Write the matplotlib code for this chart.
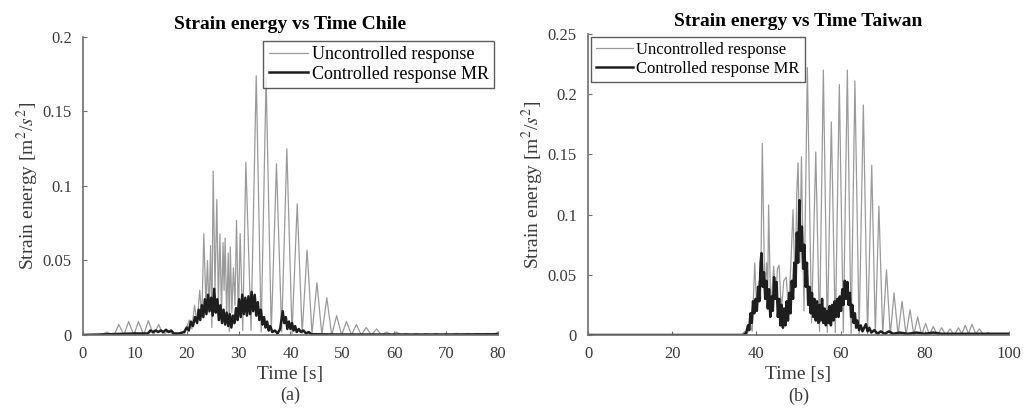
import matplotlib
matplotlib.use("Agg")
import matplotlib.pyplot as plt

# --- Chile record: uncontrolled response (peaks and troughs) ---
chile_unc_t = [0, 3.6, 4.6, 5.6, 6.0, 6.9, 7.9, 8.8, 9.8, 10.7, 11.7, 12.6, 13.6, 14.6, 15.5, 16.5,
               17.5, 18.5, 19.5, 20.5, 21.0, 21.5, 22.0, 22.5, 22.9, 23.3, 23.7, 24.0, 24.3, 24.6,
               24.85, 25.1, 25.45, 25.8, 26.1, 26.4, 26.7, 27.0, 27.2, 27.4, 27.7, 28.0, 28.2, 28.4,
               28.7, 29.0, 29.3, 29.6, 29.95, 30.3, 30.8, 31.4, 32.4, 33.4, 34.35, 35.3, 36.3, 37.3,
               38.3, 39.3, 40.3, 41.3, 42.25, 43.2, 44.15, 45.1, 46.05, 47.0, 47.95, 48.9, 49.85,
               50.8, 51.75, 52.7, 53.65, 54.6, 55.6, 56.6, 57.55, 58.5, 59.5, 60.4, 61.4, 62.3,
               63.3, 64.2, 65.2, 66.1, 67.1, 68.0, 69.0, 70.0, 71.0, 72.0, 73.0, 74.0, 75.0, 76.0,
               77.0, 78.0, 79.0, 80.0]
chile_unc_e = [0, 0, 0.002, 0, 0, 0.007, 0, 0.009, 0, 0.009, 0, 0.0096, 0, 0.007, 0, 0.003,
               0, 0.001, 0, 0.01, 0.004, 0.02, 0.008, 0.03, 0.012, 0.068, 0.02, 0.05, 0.015, 0.06,
               0.005, 0.110, 0.03, 0.091, 0.02, 0.068, 0.015, 0.062, 0.03, 0.065, 0.012, 0.055, 0.002, 0.059,
               0.015, 0.045, 0.02, 0.077, 0.01, 0.068, 0.003, 0.116, 0.003, 0.174, 0.002, 0.173, 0.002, 0.115,
               0.002, 0.125, 0.001, 0.088, 0.001, 0.057, 0.001, 0.035, 0, 0.025, 0, 0.013, 0,
               0.009, 0, 0.007, 0, 0.005, 0, 0.004, 0, 0.002, 0, 0.002, 0, 0.001,
               0, 0.001, 0, 0.001, 0, 0.001, 0, 0.001, 0, 0.001, 0, 0.001, 0, 0.001,
               0, 0.001, 0, 0.002]

# --- Chile record: controlled response MR ---
chile_mr_t = [0, 5, 10, 12.5, 13, 13.5, 14, 14.5, 15, 15.5, 16, 16.5, 17, 17.5, 18.5, 19.5, 20,
              20.4, 20.8, 21.2, 21.6, 22.0, 22.3, 22.6, 22.9, 23.2, 23.5, 23.8, 24.1, 24.4, 24.7,
              25.0, 25.3, 25.6, 25.9, 26.2, 26.5, 26.8, 27.1, 27.4, 27.7, 28.0, 28.3, 28.6, 28.9,
              29.2, 29.5, 29.8, 30.1, 30.4, 30.7, 31.0, 31.3, 31.6, 31.9, 32.2, 32.5, 32.8, 33.1,
              33.4, 33.7, 34.0, 34.3, 34.6, 34.9, 35.2, 35.5, 35.8, 36.1, 36.5, 37.0, 37.5, 38.0,
              38.5, 38.8, 39.1, 39.4, 39.7, 40.0, 40.3, 40.6, 40.9, 41.2, 41.6, 42.0, 42.5, 43.0,
              43.5, 44.0, 50, 60, 70, 80]
chile_mr_e = [0, 0.0005, 0.001, 0.001, 0.003, 0.002, 0.003, 0.002, 0.003, 0.002, 0.0035, 0.002, 0.003,
              0.001, 0.001, 0.002, 0.005,
              0.003, 0.009, 0.006, 0.012, 0.008, 0.017, 0.010, 0.020, 0.012, 0.024, 0.014, 0.027, 0.016, 0.025,
              0.013, 0.031, 0.015, 0.024, 0.010, 0.020, 0.008, 0.017, 0.007, 0.015, 0.006, 0.014, 0.005, 0.013,
              0.008, 0.018, 0.010, 0.024, 0.012, 0.027, 0.014, 0.025, 0.013, 0.026, 0.014, 0.029, 0.016, 0.027,
              0.013, 0.022, 0.010, 0.017, 0.007, 0.012, 0.005, 0.009, 0.003, 0.006, 0.002, 0.003, 0.001, 0.004,
              0.016, 0.008, 0.012, 0.004, 0.009, 0.004, 0.008, 0.003, 0.006, 0.002, 0.004, 0.002, 0.003, 0.001,
              0.002, 0.0005, 0.0003, 0.0003, 0.0003, 0.0005]

# --- Taiwan record: uncontrolled response ---
taiwan_unc_t = [0, 36.5, 37.2, 37.8, 38.5, 39.0, 39.6, 40.1, 40.6, 41.0, 41.4, 42.0, 42.4, 42.7, 42.9,
                43.4, 44.1, 44.6, 45.0, 45.4, 45.9, 46.5, 47.1, 47.6, 48.2, 48.7, 49.2, 49.6, 49.9,
                50.3, 50.7, 51.3, 52.1, 53.1, 54.1, 55.0, 55.9, 56.85, 57.8, 58.75, 59.7, 60.65, 61.6,
                62.5, 63.4, 64.4, 65.4, 66.4, 67.4, 68.25, 69.1, 70.0, 70.9, 71.8, 72.7, 73.65, 74.6,
                75.55, 76.5, 77.4, 78.3, 79.25, 80.2, 81.1, 82.0, 83.0, 84.0, 85.0, 86.0, 87.0, 88.0,
                88.8, 89.6, 90.4, 91.2, 92.1, 93.0, 94.0, 95.0, 96.0, 100]
taiwan_unc_e = [0, 0, 0.003, 0, 0.01, 0.003, 0.060, 0.02, 0.045, 0.03, 0.159, 0.03, 0.06, 0.04, 0.108,
                0.02, 0.057, 0.03, 0.055, 0.058, 0.02, 0.045, 0.048, 0.02, 0.06, 0.104, 0.04, 0.12, 0.143,
                0.06, 0.148, 0.02, 0.222, 0.01, 0.152, 0.003, 0.220, 0.002, 0.177, 0.002, 0.208, 0.002, 0.220,
                0.001, 0.211, 0.001, 0.191, 0.001, 0.141, 0.001, 0.107, 0.001, 0.054, 0, 0.035, 0, 0.028,
                0, 0.021, 0, 0.015, 0, 0.0097, 0, 0.007, 0, 0.006, 0, 0.005, 0, 0.006,
                0.001, 0.008, 0.001, 0.009, 0.001, 0.005, 0, 0.002, 0, 0]

# --- Taiwan record: controlled response MR ---
taiwan_mr_t = [0, 37, 37.6, 38.0, 38.3, 38.6, 38.9, 39.2, 39.5, 39.8, 40.1, 40.4, 40.7, 41.0, 41.2,
               41.5, 41.8, 42.1, 42.4, 42.7, 43.0, 43.3, 43.6, 43.9, 44.2, 44.5, 44.8, 45.1, 45.4,
               45.7, 46.0, 46.3, 46.6, 46.9, 47.2, 47.5, 47.8, 48.1, 48.4, 48.7, 49.0, 49.3, 49.6,
               49.9, 50.2, 50.5, 50.8, 51.1, 51.4, 51.7, 52.0, 52.3, 52.6, 52.9, 53.2, 53.5, 53.8,
               54.1, 54.4, 54.7, 55.0, 55.3, 55.6, 55.9, 56.2, 56.5, 56.8, 57.1, 57.4, 57.7, 58.0,
               58.3, 58.6, 58.9, 59.2, 59.5, 59.8, 60.1, 60.4, 60.7, 61.0, 61.3, 61.6, 61.9, 62.2,
               62.5, 62.8, 63.1, 63.4, 63.7, 64.0, 64.4, 64.8, 65.2, 65.6, 66.0, 66.4, 66.8, 67.3,
               68, 68.8, 69.5, 70.5, 71.5, 72.5, 74, 76, 78, 80, 82, 84, 90, 100]
taiwan_mr_e = [0, 0, 0.002, 0.008, 0.004, 0.018, 0.010, 0.028, 0.018, 0.030, 0.020, 0.040, 0.028, 0.060, 0.068,
               0.040, 0.052, 0.030, 0.045, 0.022, 0.038, 0.015, 0.032, 0.020, 0.048, 0.030, 0.044, 0.015, 0.030,
               0.008, 0.025, 0.006, 0.022, 0.008, 0.028, 0.012, 0.035, 0.018, 0.045, 0.030, 0.060, 0.040, 0.085,
               0.060, 0.112, 0.070, 0.090, 0.055, 0.075, 0.040, 0.060, 0.025, 0.040, 0.018, 0.035, 0.015, 0.030,
               0.012, 0.028, 0.010, 0.025, 0.012, 0.030, 0.010, 0.022, 0.008, 0.020, 0.010, 0.024, 0.008, 0.025,
               0.012, 0.028, 0.015, 0.030, 0.015, 0.032, 0.020, 0.038, 0.025, 0.045, 0.030, 0.044, 0.025, 0.035,
               0.015, 0.025, 0.010, 0.018, 0.006, 0.012, 0.004, 0.008, 0.003, 0.006, 0.009, 0.003, 0.006, 0.002,
               0.004, 0.001, 0.003, 0.001, 0.003, 0.001, 0.002, 0.001, 0.002, 0.001, 0.002, 0.001, 0.001, 0.001]

labels = ["Uncontrolled response", "Controlled response MR"]

plt.rcParams['font.family'] = ['Liberation Serif', 'DejaVu Serif']
plt.rcParams['mathtext.fontset'] = 'stix'

UNC_COLOR = '#9a9a9a'
MR_COLOR = '#1e1e1e'
AXIS_COLOR = '#6e6e6e'
TEXT_COLOR = '#3a3a3a'


# --- one panel ---
def draw_panel(ax, t_unc, e_unc, t_mr, e_mr, title, xmax, ymax, yticks, legend_loc, legend_size, tag):
    ax.plot(t_unc, e_unc, color=UNC_COLOR, lw=0.9, label=labels[0])
    ax.plot(t_mr, e_mr, color=MR_COLOR, lw=1.8, label=labels[1])
    ax.set_xlim(0, xmax)
    ax.set_ylim(0, ymax)
    ax.set_yticks(yticks)
    ax.set_yticklabels([('%g' % v) for v in yticks])
    ax.set_title(title, fontsize=14, fontweight='bold', pad=6)
    ax.set_xlabel('Time [s]', fontsize=14, color=TEXT_COLOR, labelpad=3)
    ax.set_ylabel('Strain energy [m$^2$/$s^2$]', fontsize=14, color=TEXT_COLOR, labelpad=1)
    for side in ['top', 'right']:
        ax.spines[side].set_visible(False)
    for side in ['left', 'bottom']:
        ax.spines[side].set_color(AXIS_COLOR)
        ax.spines[side].set_linewidth(1.2)
    ax.tick_params(direction='in', length=3, colors=AXIS_COLOR, labelcolor=TEXT_COLOR, labelsize=12)
    ax.tick_params(axis='x', pad=8)
    ax.tick_params(axis='y', pad=8)
    leg = ax.legend(loc=legend_loc, fontsize=legend_size, frameon=True, fancybox=False,
                    borderaxespad=0.2, handlelength=2.2, handletextpad=0.2,
                    labelspacing=0.15, borderpad=0.3)
    leg.get_frame().set_edgecolor('#333333')
    leg.get_frame().set_linewidth(1.0)
    ax.text(0.5, -0.175, tag, transform=ax.transAxes, ha='center', va='top',
            fontsize=13, color=TEXT_COLOR)


fig = plt.figure(figsize=(10.23, 4.13), dpi=100)
ax1 = fig.add_axes([0.0811, 0.1889, 0.4057, 0.7215])
ax2 = fig.add_axes([0.5748, 0.1889, 0.4115, 0.7288])

draw_panel(ax1, chile_unc_t, chile_unc_e, chile_mr_t, chile_mr_e,
           'Strain energy vs Time Chile', 80, 0.2, [0, 0.05, 0.1, 0.15, 0.2], 'upper right', 13, '(a)')
draw_panel(ax2, taiwan_unc_t, taiwan_unc_e, taiwan_mr_t, taiwan_mr_e,
           'Strain energy vs Time Taiwan', 100, 0.25, [0, 0.05, 0.1, 0.15, 0.2, 0.25], 'upper left', 12, '(b)')

fig.savefig('out.png', dpi=100)
